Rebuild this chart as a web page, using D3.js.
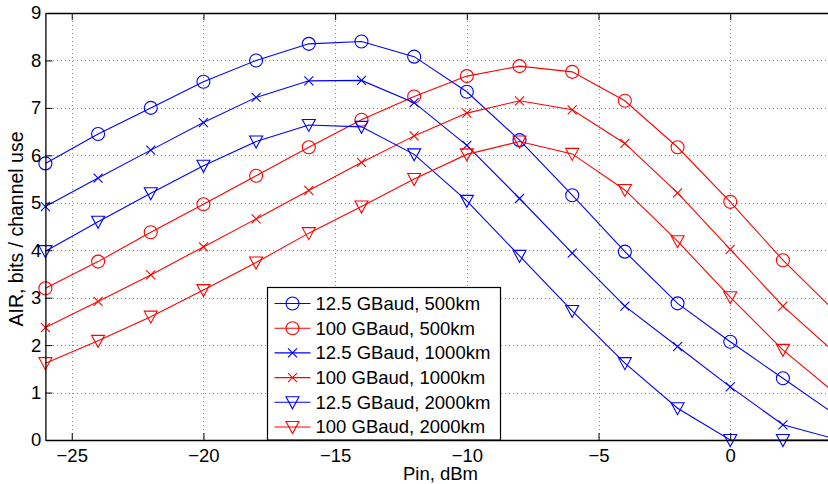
<!DOCTYPE html>
<html>
<head>
<meta charset="utf-8">
<script src="https://cdn.jsdelivr.net/npm/d3@7"></script>
<style>
  body { margin: 0; background: #fff; }
  svg { display: block; font-family: "Liberation Sans", Arial, sans-serif; }
  .grid line { stroke: #888; stroke-dasharray: 1,3; shape-rendering: crispEdges; }
</style>
</head>
<body>
<div id="chart"></div>
<script>
// launch power, dBm (last point sits just outside the visible window)
const pin = [-26, -24, -22, -20, -18, -16, -14, -12, -10, -8, -6, -4, -2, 0, 2, 4];

// AIR values
const air125_500  = [5.83, 6.45, 7.00, 7.55, 8.00, 8.35, 8.40, 8.08, 7.34, 6.32, 5.16, 3.97, 2.88, 2.07, 1.30, 0.53];
const air100_500  = [3.20, 3.76, 4.38, 4.97, 5.57, 6.17, 6.75, 7.24, 7.67, 7.88, 7.76, 7.15, 6.17, 5.02, 3.79, 2.70];
const air125_1000 = [4.92, 5.52, 6.11, 6.69, 7.22, 7.57, 7.58, 7.11, 6.21, 5.09, 3.94, 2.82, 1.97, 1.12, 0.32, 0.02];
const air100_1000 = [2.37, 2.92, 3.48, 4.07, 4.66, 5.26, 5.85, 6.41, 6.89, 7.15, 6.96, 6.25, 5.21, 4.02, 2.82, 1.83];
const air125_2000 = [3.98, 4.60, 5.20, 5.78, 6.29, 6.64, 6.60, 6.02, 5.04, 3.88, 2.72, 1.62, 0.67, 0.00, 0.00, 0.00];
const air100_2000 = [1.62, 2.09, 2.60, 3.16, 3.74, 4.36, 4.92, 5.50, 6.02, 6.29, 6.03, 5.27, 4.19, 3.01, 1.90, 0.98];

const legendLabels = ["12.5 GBaud, 500km", "100 GBaud, 500km", "12.5 GBaud, 1000km",
                      "100 GBaud, 1000km", "12.5 GBaud, 2000km", "100 GBaud, 2000km"];

const xTicks = [-25, -20, -15, -10, -5, 0];
const yTicks = [0, 1, 2, 3, 4, 5, 6, 7, 8, 9];

const series = [
  { name: legendLabels[0], values: air125_500,  color: "#0000ff", marker: "circle" },
  { name: legendLabels[1], values: air100_500,  color: "#ff0000", marker: "circle" },
  { name: legendLabels[2], values: air125_1000, color: "#0000ff", marker: "cross" },
  { name: legendLabels[3], values: air100_1000, color: "#ff0000", marker: "cross" },
  { name: legendLabels[4], values: air125_2000, color: "#0000ff", marker: "tri" },
  { name: legendLabels[5], values: air100_2000, color: "#ff0000", marker: "tri" }
];

const width = 828, height = 484;
const margin = { top: 13, left: 45.4 };
const plotW = 790.2, plotH = 427;   // right edge of the axes falls outside the picture

const svg = d3.select("#chart").append("svg")
  .attr("width", width)
  .attr("height", height);

const x = d3.scaleLinear().domain([-26, 4]).range([margin.left, margin.left + plotW]);
const y = d3.scaleLinear().domain([0, 9]).range([margin.top + plotH, margin.top]);

// dotted grid
const grid = svg.append("g").attr("class", "grid");
grid.selectAll(".vx").data(xTicks).join("line")
  .attr("x1", d => Math.round(x(d)) + 0.5).attr("x2", d => Math.round(x(d)) + 0.5)
  .attr("y1", y(9)).attr("y2", y(0));
grid.selectAll(".hy").data(yTicks.slice(1, -1)).join("line")
  .attr("y1", d => Math.round(y(d)) + 0.5).attr("y2", d => Math.round(y(d)) + 0.5)
  .attr("x1", x(-26)).attr("x2", x(4));

// markers
function drawMarker(g, type, color) {
  if (type === "circle") {
    g.append("circle").attr("r", 6.5);
  } else if (type === "cross") {
    g.append("path").attr("d", "M-4.5,-4.5L4.5,4.5M-4.5,4.5L4.5,-4.5");
  } else {
    g.append("path").attr("d", "M-6.5,-5.5L6.5,-5.5L0,6.5Z");
  }
  g.selectAll("*").attr("fill", "none").attr("stroke", color).attr("stroke-width", 1.1);
}

const line = d3.line()
  .x((d, i) => x(pin[i]))
  .y(d => y(d));

series.forEach(s => {
  svg.append("path")
    .datum(s.values)
    .attr("fill", "none")
    .attr("stroke", s.color)
    .attr("stroke-width", 1.1)
    .attr("d", line);

  s.values.forEach((v, i) => {
    const g = svg.append("g").attr("transform", `translate(${x(pin[i])},${y(v)})`);
    drawMarker(g, s.marker, s.color);
  });
});

// axes (MATLAB style box, ticks inside)
const axisG = svg.append("g");
axisG.append("g")
  .attr("transform", `translate(0,${y(0)})`)
  .call(d3.axisBottom(x).tickValues(xTicks).tickSizeInner(-7).tickSizeOuter(0).tickPadding(9)
        .tickFormat(d => d3.format("")(d).replace("-", "\u2212")));
axisG.append("g")
  .attr("transform", `translate(0,${y(9)})`)
  .call(d3.axisTop(x).tickValues(xTicks).tickSizeInner(-7).tickSizeOuter(0).tickFormat(""));
axisG.append("g")
  .attr("transform", `translate(${x(-26)},0)`)
  .call(d3.axisLeft(y).tickValues(yTicks).tickSizeInner(-7).tickSizeOuter(0).tickPadding(4));

axisG.selectAll(".domain").attr("stroke", "#000").attr("stroke-width", 1.3);
axisG.selectAll(".tick line").attr("stroke", "#000");
axisG.selectAll("text")
  .attr("font-family", "'Liberation Sans', Arial, sans-serif")
  .attr("font-size", 18.5)
  .attr("fill", "#000");

// axis titles
svg.append("text")
  .attr("x", x(-11))
  .attr("y", 480)
  .attr("text-anchor", "middle")
  .attr("font-size", 18.5)
  .text("Pin, dBm");

svg.append("text")
  .attr("transform", `translate(23,229) rotate(-90)`)
  .attr("text-anchor", "middle")
  .attr("font-size", 19.5)
  .text("AIR, bits / channel use");

// legend
const legend = svg.append("g").attr("transform", "translate(267.5,287.5)");
legend.append("rect")
  .attr("width", 233)
  .attr("height", 152.5)
  .attr("fill", "#fff")
  .attr("stroke", "#000")
  .attr("stroke-width", 1.2);

series.forEach((s, i) => {
  const row = legend.append("g").attr("transform", `translate(0,${16 + i * 24.7})`);
  row.append("line")
    .attr("x1", 7).attr("x2", 43)
    .attr("stroke", s.color).attr("stroke-width", 1.1);
  const m = row.append("g").attr("transform", "translate(25,0)");
  drawMarker(m, s.marker, s.color);
  row.append("text")
    .attr("x", 48)
    .attr("dy", "0.35em")
    .attr("font-size", 18.5)
    .text(s.name);
});
</script>
</body>
</html>
